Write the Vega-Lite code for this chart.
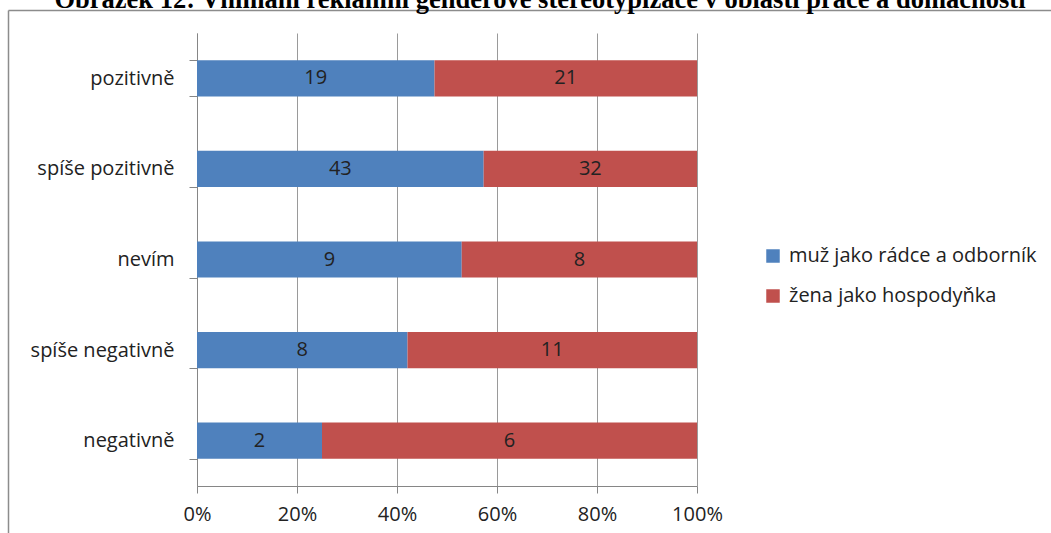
{
  "$schema": "https://vega.github.io/schema/vega-lite/v6.json",
  "autosize": {"type": "none"},
  "width": 500,
  "height": 453,
  "padding": {"left": 197, "top": 33, "right": 354, "bottom": 47},
  "background": "white",
  "title": {
    "text": "Obrázek 12: Vnímání reklamní genderové stereotypizace v oblasti práce a domácnosti",
    "font": "Liberation Serif",
    "fontSize": 26.5,
    "fontWeight": "bold",
    "color": "#000000",
    "anchor": "middle",
    "frame": "group",
    "dx": 93,
    "baseline": "alphabetic",
    "offset": -24
  },
  "data": {
    "values": [
      {"odpoved": "pozitivně", "stereotyp": "muž jako rádce a odborník", "pocet": 19},
      {"odpoved": "pozitivně", "stereotyp": "žena jako hospodyňka", "pocet": 21},
      {"odpoved": "spíše pozitivně", "stereotyp": "muž jako rádce a odborník", "pocet": 43},
      {"odpoved": "spíše pozitivně", "stereotyp": "žena jako hospodyňka", "pocet": 32},
      {"odpoved": "nevím", "stereotyp": "muž jako rádce a odborník", "pocet": 9},
      {"odpoved": "nevím", "stereotyp": "žena jako hospodyňka", "pocet": 8},
      {"odpoved": "spíše negativně", "stereotyp": "muž jako rádce a odborník", "pocet": 8},
      {"odpoved": "spíše negativně", "stereotyp": "žena jako hospodyňka", "pocet": 11},
      {"odpoved": "negativně", "stereotyp": "muž jako rádce a odborník", "pocet": 2},
      {"odpoved": "negativně", "stereotyp": "žena jako hospodyňka", "pocet": 6}
    ]
  },
  "layer": [
    {
      "layer": [
        {
          "mark": {"type": "bar"},
          "encoding": {
            "y": {
              "field": "odpoved",
              "type": "nominal",
              "sort": ["pozitivně", "spíše pozitivně", "nevím", "spíše negativně", "negativně"],
              "scale": {"paddingInner": 0.6, "paddingOuter": 0.3},
              "axis": {
                "title": null,
                "tickBand": "extent",
                "tickSize": 8,
                "tickColor": "#868686",
                "domainColor": "#868686",
                "labelFont": "Open Sans",
                "labelFontSize": 20,
                "labelColor": "#222222",
                "labelPadding": 15,
                "grid": false
              }
            },
            "x": {
              "field": "pocet",
              "type": "quantitative",
              "stack": "normalize",
              "scale": {"domain": [0, 1]},
              "axis": {
                "title": null,
                "format": ".0%",
                "values": [0, 0.2, 0.4, 0.6, 0.8, 1],
                "grid": true,
                "gridColor": "#9a9a9a",
                "tickSize": 7,
                "tickColor": "#868686",
                "domainColor": "#868686",
                "labelFont": "Open Sans",
                "labelFontSize": 20,
                "labelColor": "#222222",
                "labelPadding": 11,
                "labelFlush": false,
                "labelOverlap": false
              }
            },
            "color": {
              "field": "stereotyp",
              "type": "nominal",
              "scale": {
                "domain": ["muž jako rádce a odborník", "žena jako hospodyňka"],
                "range": ["#4F81BD", "#C0504D"]
              },
              "legend": {
                "orient": "none",
                "legendX": 566,
                "legendY": 213,
                "title": null,
                "symbolType": "square",
                "symbolSize": 182,
                "symbolStrokeWidth": 0,
                "symbolOpacity": 1,
                "labelFont": "Open Sans",
                "labelFontSize": 20,
                "labelColor": "#222222",
                "labelLimit": 400,
                "rowPadding": 20,
                "labelOffset": 6,
                "padding": 0
              }
            },
            "order": {"field": "stereotyp", "sort": "ascending"}
          }
        },
        {
          "mark": {"type": "text", "font": "Open Sans", "fontSize": 20, "color": "#222222", "align": "center", "baseline": "middle"},
          "encoding": {
            "y": {
              "field": "odpoved",
              "type": "nominal",
              "sort": ["pozitivně", "spíše pozitivně", "nevím", "spíše negativně", "negativně"]
            },
            "x": {"field": "pocet", "type": "quantitative", "stack": "normalize", "bandPosition": 0.5},
            "detail": {"field": "stereotyp"},
            "order": {"field": "stereotyp", "sort": "ascending"},
            "text": {"field": "pocet", "type": "quantitative"}
          }
        }
      ]
    },
    {
      "mark": {"type": "point", "opacity": 0},
      "encoding": {
        "x": {
          "field": "pocet",
          "type": "quantitative",
          "scale": {"domain": [0, 50], "range": [-189, 854]},
          "axis": {"orient": "top", "offset": 23, "domain": true, "domainColor": "#8c8c8c", "domainWidth": 1.5, "ticks": false, "labels": false, "grid": false, "title": null}
        },
        "y": {
          "field": "pocet",
          "type": "quantitative",
          "scale": {"domain": [0, 50], "range": [500, -23]},
          "axis": {"orient": "left", "offset": 189, "domain": true, "domainColor": "#8c8c8c", "domainWidth": 1.5, "ticks": false, "labels": false, "grid": false, "title": null}
        }
      }
    }
  ],
  "resolve": {"scale": {"x": "independent", "y": "independent"}},
  "config": {"view": {"stroke": null}, "font": "Open Sans"}
}
